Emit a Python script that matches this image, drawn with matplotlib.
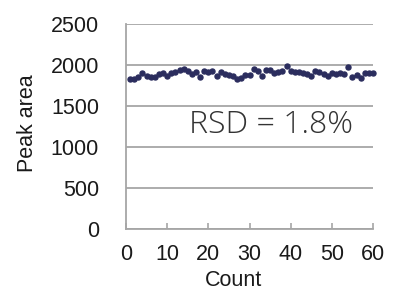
import matplotlib
matplotlib.use("Agg")
import matplotlib.pyplot as plt

count = list(range(1, 61))
peak_area = [1824, 1824, 1857, 1898, 1865, 1857, 1850, 1890, 1898, 1869,
             1898, 1918, 1939, 1947, 1930, 1885, 1910, 1857, 1930, 1910,
             1926, 1869, 1910, 1885, 1877, 1869, 1824, 1836, 1877, 1877,
             1947, 1930, 1869, 1939, 1939, 1906, 1918, 1926, 1992, 1926,
             1918, 1910, 1898, 1885, 1869, 1930, 1910, 1890, 1869, 1906,
             1885, 1906, 1890, 1980, 1857, 1877, 1836, 1906, 1898, 1898]
xticks = [0, 10, 20, 30, 40, 50, 60]
yticks = [0, 500, 1000, 1500, 2000, 2500]
annotation = "RSD = 1.8%"

plt.rcParams['font.family'] = ['Liberation Sans', 'DejaVu Sans']

fig = plt.figure(figsize=(4.03, 2.86), dpi=100)
ax = fig.add_axes([126/403, 1-229/286, (373-126)/403, (229-24)/286])

grid_c = '#a6a6a6'
ax.set_xlim(0, 60)
ax.set_ylim(0, 2500)
ax.set_xticks(xticks)
ax.set_yticks(yticks)
ax.yaxis.grid(True, color=grid_c, linewidth=1.3)
ax.set_axisbelow(True)
for s in ['top', 'right']:
    ax.spines[s].set_visible(False)
for s in ['left', 'bottom']:
    ax.spines[s].set_color(grid_c)
    ax.spines[s].set_linewidth(1.3)

ax.plot(count, peak_area, linestyle='none', marker='o', markersize=3.6,
        color='#2b2d5e', clip_on=False, zorder=3)

ax.tick_params(axis='x', direction='in', length=4, width=1.2, color=grid_c,
               pad=11, labelsize=15.5, labelcolor='#1a1a1a')
ax.tick_params(axis='y', length=0, pad=19.5, labelsize=15.5, labelcolor='#1a1a1a')

ax.set_xlabel('Count', fontsize=15.5, color='#1a1a1a', labelpad=3.5)
ax.set_ylabel('Peak area', fontsize=15.5, color='#1a1a1a', labelpad=9)
ax.xaxis.label.set_x(0.435)
ax.yaxis.label.set_y(0.515)

ax.text(35.2, 1175, annotation, fontsize=23, color='#333333',
        family=['Open Sans', 'DejaVu Sans'], fontweight='light',
        ha='center', va='baseline')

fig.savefig('out.png', dpi=100)
